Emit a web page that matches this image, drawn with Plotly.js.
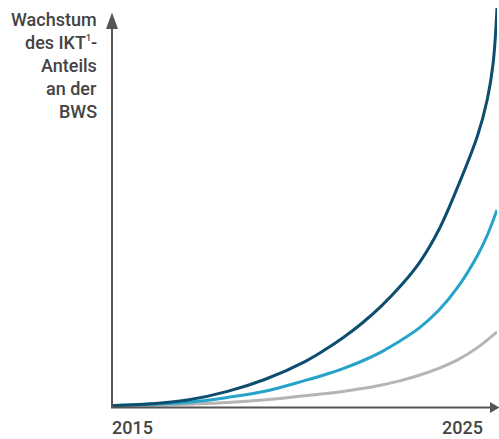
<!DOCTYPE html>
<html>
<head>
<meta charset="utf-8">
<script src="https://cdn.plot.ly/plotly-3.0.1.min.js"></script>
<style>html,body{margin:0;padding:0;background:#fff;}#chart{width:499px;height:439px;}</style>
</head>
<body>
<div id="chart"></div>
<script>
// Years (x) and index values (y, 0-100 abstract scale)
const darkYears = [2015, 2016, 2017, 2018, 2019, 2020, 2020.5, 2021, 2021.5, 2022, 2022.5, 2023, 2023.5, 2024, 2024.5, 2024.75, 2024.9, 2025];
const darkValues = [0.3, 0.8, 1.8, 3.9, 7.0, 11.3, 14.1, 17.3, 21.0, 25.3, 30.3, 36.3, 44.5, 55.5, 68, 77, 86, 99.75];

const blueYears = [2015, 2016, 2017, 2018, 2019, 2020, 2020.5, 2021, 2021.5, 2022, 2022.5, 2023, 2023.5, 2024, 2024.5, 2024.75, 2025];
const blueValues = [0.4, 0.7, 1.2, 2.4, 4.0, 6.6, 8.0, 9.6, 11.5, 13.8, 16.6, 19.9, 24.3, 30.2, 38.0, 43.0, 49.25];

const greyYears = [2015, 2016, 2017, 2018, 2019, 2020, 2020.5, 2021, 2021.5, 2022, 2022.5, 2023, 2023.5, 2024, 2024.5, 2025];
const greyValues = [0.2, 0.4, 0.7, 1.1, 1.8, 2.8, 3.3, 3.9, 4.6, 5.5, 6.6, 8.0, 9.7, 11.9, 14.9, 18.8];

const xLabels = ["2015", "2025"];
const yTitleLines = ["Wachstum", "des IKT<sup><span style='font-size:9px'>1</span></sup>-", "Anteils", "an der", "BWS"];

const axisColor = "#555555";
const textColor = "#444444";
const fontFam = "Roboto, 'DejaVu Sans', sans-serif";

function trace(x, y, color) {
  return {x: x, y: y, type: "scatter", mode: "lines",
    line: {color: color, width: 3, shape: "spline", smoothing: 1},
    cliponaxis: false, hoverinfo: "skip", showlegend: false};
}

const data = [
  trace(greyYears, greyValues, "#b5b5b5"),
  trace(blueYears, blueValues, "#27a3c9"),
  trace(darkYears, darkValues, "#0d4d6e")
];

// plot area: left 112, width 385, top 7, height 400 (bottom 407)
const L = 112, W = 385, T = 7, H = 400;
const px = v => (v - L) / W;
const py = v => (T + H - v) / H;

const annotations = [];
const lineCenters = [20, 43, 65.5, 88, 111];
const labelFont = {family: fontFam, size: 18, color: textColor, weight: 500};
yTitleLines.forEach((t, i) => {
  annotations.push({text: t, xref: "paper", yref: "paper", x: px(98), y: py(lineCenters[i]),
    xanchor: "right", yanchor: "middle", showarrow: false, font: labelFont, borderpad: 0});
});
annotations.push({text: xLabels[0], xref: "paper", yref: "paper", x: px(111), y: py(427),
  xanchor: "left", yanchor: "middle", showarrow: false, font: labelFont, borderpad: 0});
annotations.push({text: xLabels[1], xref: "paper", yref: "paper", x: px(484), y: py(427),
  xanchor: "right", yanchor: "middle", showarrow: false, font: labelFont, borderpad: 0});

const shapes = [
  // x axis line
  {type: "line", xref: "paper", yref: "paper", x0: px(111), x1: px(491), y0: py(407.5), y1: py(407.5),
   line: {color: axisColor, width: 2}},
  // y axis line
  {type: "line", xref: "paper", yref: "paper", x0: px(112), x1: px(112), y0: py(408), y1: py(28),
   line: {color: axisColor, width: 2}},
  // x arrow head
  {type: "path", xref: "paper", yref: "paper",
   path: `M ${px(490)} ${py(402)} L ${px(499.5)} ${py(407.5)} L ${px(490)} ${py(413)} Z`,
   fillcolor: axisColor, line: {color: axisColor, width: 0}},
  // y arrow head
  {type: "path", xref: "paper", yref: "paper",
   path: `M ${px(106)} ${py(29)} L ${px(112)} ${py(12.5)} L ${px(118)} ${py(29)} Z`,
   fillcolor: axisColor, line: {color: axisColor, width: 0}}
];

const layout = {
  width: 499, height: 439,
  margin: {l: L, r: 499 - L - W, t: T, b: 439 - T - H, pad: 0},
  paper_bgcolor: "#ffffff", plot_bgcolor: "#ffffff",
  xaxis: {range: [2015, 2025], showgrid: false, zeroline: false, showline: false, showticklabels: false, ticks: "", fixedrange: true},
  yaxis: {range: [0, 100], showgrid: false, zeroline: false, showline: false, showticklabels: false, ticks: "", fixedrange: true},
  annotations: annotations,
  shapes: shapes,
  showlegend: false
};

Plotly.newPlot("chart", data, layout, {displayModeBar: false, staticPlot: true});
</script>
</body>
</html>
